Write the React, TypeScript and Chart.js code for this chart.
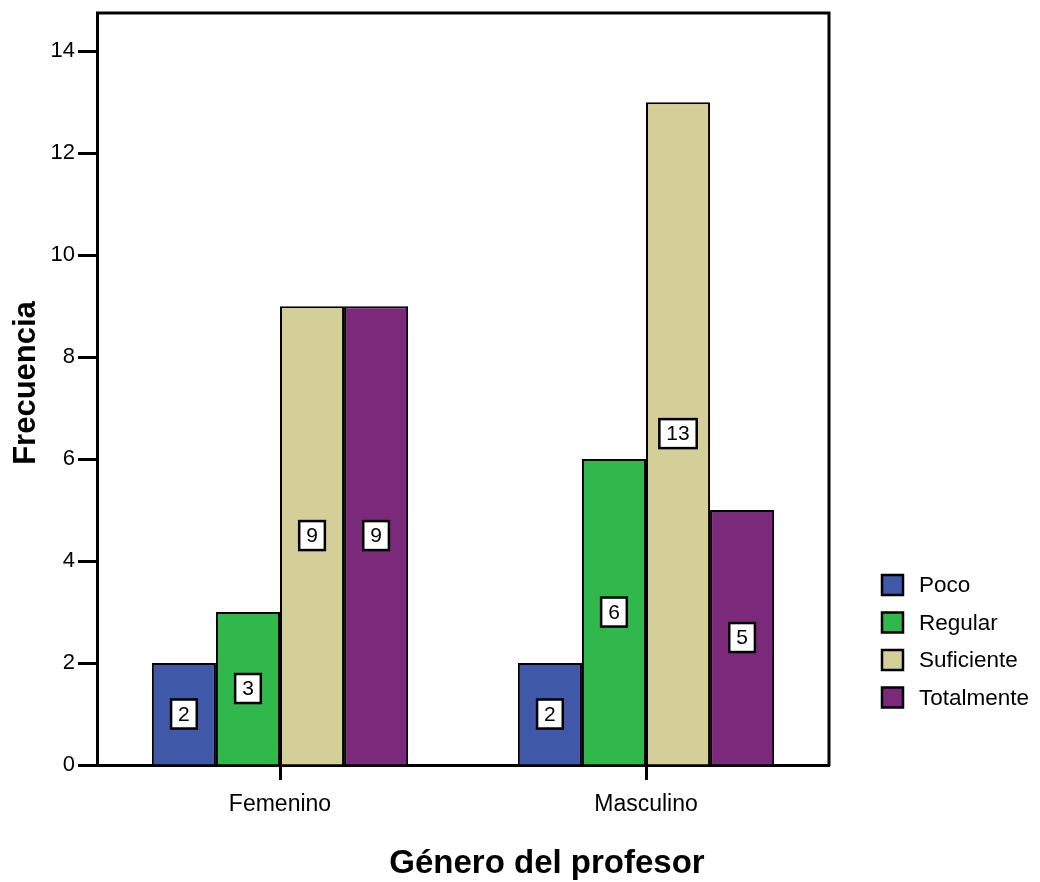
import React, { useEffect, useRef } from "react";
import { Chart, registerables } from "chart.js";

Chart.register(...registerables);

const categories = ["Femenino", "Masculino"];
const seriesNames = ["Poco", "Regular", "Suficiente", "Totalmente"];
const poco = [2, 2];
const regular = [3, 6];
const suficiente = [9, 13];
const totalmente = [9, 5];
const seriesColors = ["#3F59A8", "#30B84A", "#D4CE98", "#7B2A7B"];
const yTicks = [0, 2, 4, 6, 8, 10, 12, 14];
const yMax = 14.75;
const xTitle = "Género del profesor";
const yTitle = "Frecuencia";

const FONT = "'Liberation Sans', Arial, Helvetica, sans-serif";

const decorPlugin = {
  id: "decor",
  afterDatasetsDraw(chart: any) {
    const ctx = chart.ctx;
    const area = chart.chartArea;
    ctx.save();
    // box top & right
    ctx.strokeStyle = "#000";
    ctx.lineWidth = 3;
    ctx.beginPath();
    ctx.moveTo(area.left - 1, area.top);
    ctx.lineTo(area.right, area.top);
    ctx.lineTo(area.right, area.bottom + 1);
    ctx.stroke();

    // value labels
    ctx.font = `21px ${FONT}`;
    ctx.textAlign = "center";
    ctx.textBaseline = "middle";
    chart.data.datasets.forEach((ds: any, di: number) => {
      const meta = chart.getDatasetMeta(di);
      meta.data.forEach((bar: any, i: number) => {
        const v = ds.data[i];
        const yMid = chart.scales.y.getPixelForValue(v / 2);
        const txt = String(v);
        const w = ctx.measureText(txt).width + 14;
        const h = 29;
        ctx.fillStyle = "#fff";
        ctx.fillRect(bar.x - w / 2, yMid - h / 2, w, h);
        ctx.strokeStyle = "#000";
        ctx.lineWidth = 2.5;
        ctx.strokeRect(bar.x - w / 2, yMid - h / 2, w, h);
        ctx.fillStyle = "#000";
        ctx.fillText(txt, bar.x, yMid + 1);
      });
    });

    // legend
    const lx = 882;
    const ly0 = 585;
    const step = 37.5;
    ctx.textAlign = "left";
    ctx.font = `22.5px ${FONT}`;
    seriesNames.forEach((name, i) => {
      const cy = ly0 + i * step;
      ctx.fillStyle = seriesColors[i];
      ctx.fillRect(lx, cy - 10, 21, 20);
      ctx.strokeStyle = "#000";
      ctx.lineWidth = 2.5;
      ctx.strokeRect(lx, cy - 10, 21, 20);
      ctx.fillStyle = "#000";
      ctx.fillText(name, lx + 37, cy + 1);
    });

    // axis titles
    ctx.font = `bold 33px ${FONT}`;
    ctx.textAlign = "center";
    ctx.textBaseline = "alphabetic";
    ctx.fillText(xTitle, 547, 873);
    ctx.font = `bold 31px ${FONT}`;
    ctx.save();
    ctx.translate(35, 383);
    ctx.rotate(-Math.PI / 2);
    ctx.fillText(yTitle, 0, 0);
    ctx.restore();
    ctx.restore();
  },
};

export default function App() {
  const ref = useRef<HTMLCanvasElement>(null);
  useEffect(() => {
    if (!ref.current) return;
    const data = [poco, regular, suficiente, totalmente];
    const chart = new Chart(ref.current, {
      type: "bar",
      data: {
        labels: categories,
        datasets: seriesNames.map((n, i) => ({
          label: n,
          data: data[i],
          backgroundColor: seriesColors[i],
          borderColor: "#000",
          borderWidth: 2,
          borderSkipped: "bottom",
          categoryPercentage: 0.7,
          barPercentage: 1.0,
        })),
      },
      options: {
        animation: false,
        responsive: true,
        maintainAspectRatio: false,
        layout: { padding: { top: 13, right: 211, left: 0, bottom: 0 } },
        plugins: { legend: { display: false }, tooltip: { enabled: false } },
        scales: {
          x: {
            afterFit: (s: any) => {
              s.height = 117;
              s.paddingLeft = 0;
              s.paddingRight = 0;
            },
            grid: {
              offset: false,
              drawOnChartArea: false,
              tickLength: 15,
              tickColor: "#000",
              tickWidth: 3,
            },
            border: { display: true, color: "#000", width: 3 },
            ticks: {
              color: "#000",
              padding: 11,
              font: { family: FONT, size: 23 },
            },
          },
          y: {
            min: 0,
            max: yMax,
            afterFit: (s: any) => {
              s.width = 97;
              s.paddingTop = 0;
              s.paddingBottom = 0;
            },
            afterBuildTicks: (s: any) => {
              s.ticks = yTicks.map((v) => ({ value: v }));
            },
            grid: {
              drawOnChartArea: false,
              tickLength: 19,
              tickColor: "#000",
              tickWidth: 3,
            },
            border: { display: true, color: "#000", width: 3 },
            ticks: {
              color: "#000",
              padding: 3,
              font: { family: FONT, size: 22 },
            },
          },
        },
      },
      plugins: [decorPlugin],
    });
    return () => chart.destroy();
  }, []);
  return (
    <div style={{ position: "absolute", left: 0, top: 0, width: 1040, height: 882 }}>
      <canvas ref={ref} />
    </div>
  );
}
